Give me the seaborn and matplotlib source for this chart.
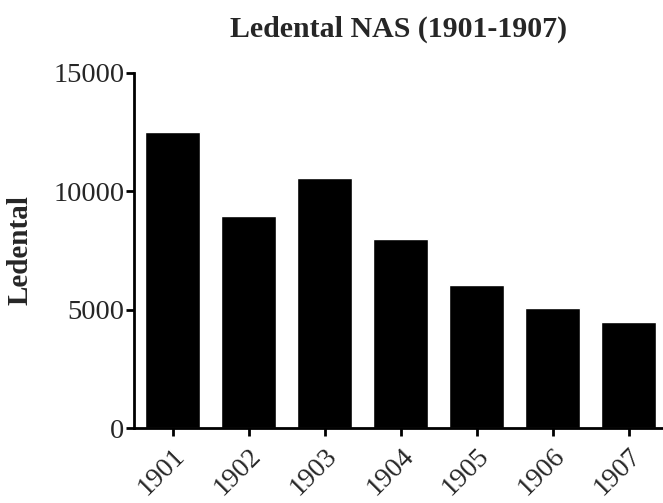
import pandas as pd
import matplotlib.pyplot as plt
import seaborn as sns

years = ['1901', '1902', '1903', '1904', '1905', '1906', '1907']
ledental = [12500, 8950, 10550, 8000, 6050, 5050, 4500]

df = pd.DataFrame({'year': years, 'ledental': ledental})

sns.set_style('ticks')
plt.rcParams['font.family'] = ['Liberation Serif', 'DejaVu Serif']

fig = plt.figure(figsize=(6.63, 5.03), dpi=100)
ax = fig.add_axes([0.202, 0.149, 0.798, 0.706])

sns.barplot(data=df, x='year', y='ledental', color='black', width=0.72,
            saturation=1, ax=ax)

ax.set_xlim(-0.51, 6.45)
ax.set_ylim(0, 15000)
ax.set_yticks([0, 5000, 10000, 15000])
ax.set_xlabel('')
ax.set_ylabel('Ledental', fontsize=21, fontweight='bold')
ax.yaxis.set_label_coords(-0.19, 0.5)
ax.set_title('Ledental NAS (1901-1907)', fontsize=21.5, fontweight='bold', pad=26)

sns.despine(ax=ax)
for s in ['left', 'bottom']:
    ax.spines[s].set_linewidth(2)
    ax.spines[s].set_color('black')
ax.tick_params(axis='both', width=2, length=6, color='black', labelsize=20)
ax.tick_params(axis='y', labelsize=20.5, pad=1)
ax.tick_params(axis='x', pad=5)
plt.setp(ax.get_xticklabels(), rotation=45, ha='right', rotation_mode='anchor')

fig.savefig('out.png', dpi=100)
